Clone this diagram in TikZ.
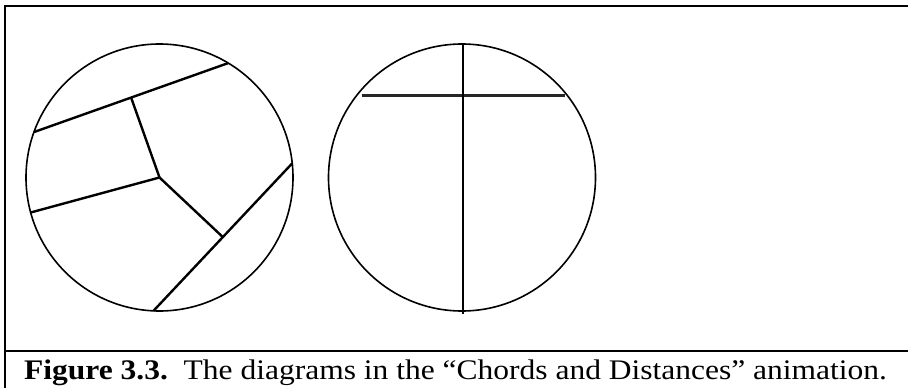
\documentclass[tikz,border=0pt]{standalone}
\usepackage{fontspec}
\setmainfont{Liberation Serif}
\usetikzlibrary{calc}
\tikzset{
  frameline/.style={line width=2.4pt, black},
  circ/.style={line width=1.6pt, black},
  chordline/.style={line width=2.4pt, black},
  lightchord/.style={line width=2.2pt, black!85},
  captiontext/.style={font=\fontsize{31.5}{34}\selectfont, inner sep=0pt, anchor=base west}
}
\begin{document}
\begin{tikzpicture}[x=1pt,y=-1pt]
\useasboundingbox (0,0) rectangle (908,388);
% frame
\coordinate (tl) at (4,6);
\coordinate (tr) at (908,6);
\coordinate (lt) at (5,5);
\coordinate (lb) at (5,388);
\coordinate (sl) at (4,351);
\coordinate (sr) at (908,351);
\draw[frameline] (tl) -- (tr);
\draw[frameline] (lt) -- (lb);
\draw[frameline] (sl) -- (sr);
% left circle
\coordinate (C) at (159.5,177.5);
\draw[circ] (C) circle[radius=133.5];
\coordinate (A1) at ($(C)+(160.1:133.5 and -133.5)$);
\coordinate (B1) at ($(C)+(59.0:133.5 and -133.5)$);
\coordinate (A2) at ($(C)+(195.2:133.5 and -133.5)$);
\coordinate (P1) at ($(C)+(6.1:133.5 and -133.5)$);
\coordinate (P2) at ($(C)+(267.4:133.5 and -133.5)$);
\coordinate (F1) at ($(A1)!(C)!(B1)$);
\coordinate (F3) at ($(P1)!(C)!(P2)$);
\draw[chordline] (A1) -- (B1);
\draw[chordline] (F1) -- (C);
\draw[chordline] (A2) -- (C);
\draw[chordline] (C) -- (F3);
\draw[chordline] (P1) -- (P2);
% right circle
\coordinate (D) at (462,177.5);
\draw[circ] (D) circle[radius=133.5];
\coordinate (Vt) at (463,44);
\coordinate (Vb) at (463,314);
\coordinate (Hl) at (361.5,95.5);
\coordinate (Hr) at (565,95.5);
\draw[lightchord] (Hl) -- (Hr);
\draw[chordline] (Vt) -- (Vb);
% caption
\node[captiontext] (cap) at (24,379) {\scalebox{1}[0.9]{\textbf{Figure 3.3.}\ \ The diagrams in the “Chords and Distances” animation.}};
\end{tikzpicture}
\end{document}
